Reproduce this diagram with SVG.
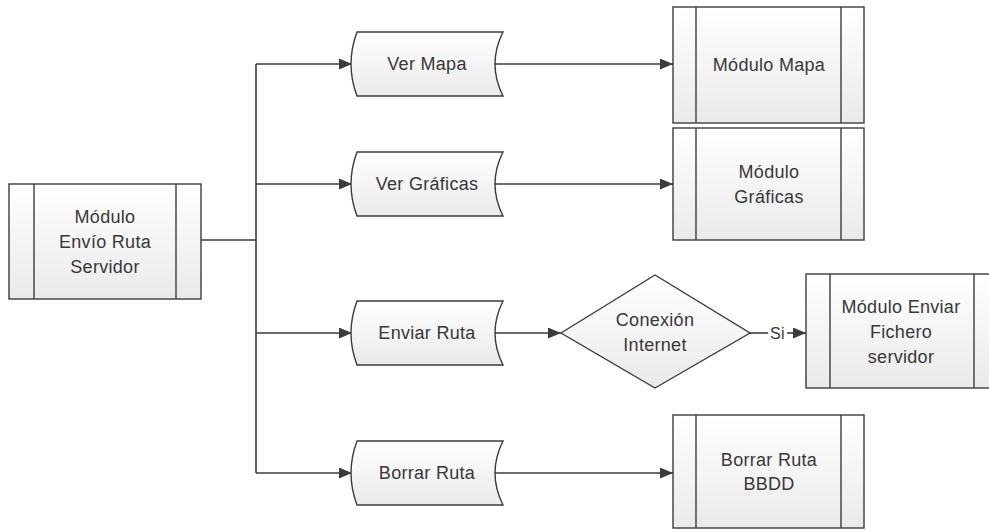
<svg xmlns="http://www.w3.org/2000/svg" width="989" height="530" viewBox="0 0 989 530">
  <style>
    .shape { fill: url(#fillGrad); stroke: #3c3c3c; stroke-width: 1.4; }
    .bar { stroke: #3c3c3c; stroke-width: 1.4; fill: none; }
    .wire { stroke: #3c3c3c; stroke-width: 1.6; fill: none; }
    .arrow { stroke: #3c3c3c; stroke-width: 1.6; fill: none; marker-end: url(#head); }
    text { font-family: "Liberation Sans", Arial, sans-serif; font-size: 18px; fill: #383838; text-anchor: middle; letter-spacing: 0.3px; }
  </style>
  <defs>
    <linearGradient id="fillGrad" x1="0" y1="0" x2="0" y2="1">
      <stop offset="0" stop-color="#ffffff"/>
      <stop offset="1" stop-color="#eaeaea"/>
    </linearGradient>
    <marker id="head" viewBox="0 0 13 11" refX="13" refY="5.5" markerWidth="13" markerHeight="11" markerUnits="userSpaceOnUse" orient="auto">
      <path d="M0,0 L13,5.5 L0,11 Z" fill="#3c3c3c"/>
    </marker>
  </defs>

  <!-- connectors -->
  <g id="connectors">
    <path class="wire" d="M201,240 H256"/>
    <path class="wire" d="M256,64 V473"/>
    <path class="arrow" d="M256,64 H352"/>
    <path class="arrow" d="M256,184 H352"/>
    <path class="arrow" d="M256,333 H352"/>
    <path class="arrow" d="M256,473 H352"/>
    <path class="arrow" d="M495,64 H673"/>
    <path class="arrow" d="M495,184 H673"/>
    <path class="arrow" d="M495,333 H561"/>
    <path class="arrow" d="M495,473 H673"/>
    <path class="wire" d="M750,333 H768"/>
    <path class="arrow" d="M787,333 H806"/>
    <text x="777.5" y="339" style="font-size:16px">Si</text>
  </g>

  <!-- main module -->
  <g id="modulo-envio">
    <rect class="shape" x="9" y="184" width="192" height="115"/>
    <path class="bar" d="M34,184 V299 M176,184 V299"/>
    <text x="105" y="223">Módulo</text>
    <text x="105" y="248">Envío Ruta</text>
    <text x="105" y="273">Servidor</text>
  </g>

  <!-- option shapes (stored-data outline) -->
  <g id="ver-mapa">
    <path class="shape" d="M357,32 H503 Q487,64 503,96 H357 Q345,64 357,32 Z"/>
    <text x="427" y="70">Ver Mapa</text>
  </g>
  <g id="ver-graficas">
    <path class="shape" d="M357,152 H503 Q487,184 503,216 H357 Q345,184 357,152 Z"/>
    <text x="427" y="190">Ver Gráficas</text>
  </g>
  <g id="enviar-ruta">
    <path class="shape" d="M357,301 H503 Q487,333 503,365 H357 Q345,333 357,301 Z"/>
    <text x="427" y="339">Enviar Ruta</text>
  </g>
  <g id="borrar-ruta">
    <path class="shape" d="M357,441 H503 Q487,473 503,505 H357 Q345,473 357,441 Z"/>
    <text x="427" y="479">Borrar Ruta</text>
  </g>

  <!-- target modules -->
  <g id="modulo-mapa">
    <rect class="shape" x="673" y="7" width="191" height="116"/>
    <path class="bar" d="M696,7 V123 M841,7 V123"/>
    <text x="769" y="71">Módulo Mapa</text>
  </g>
  <g id="modulo-graficas">
    <rect class="shape" x="673" y="128" width="191" height="112"/>
    <path class="bar" d="M696,128 V240 M841,128 V240"/>
    <text x="769" y="178">Módulo</text>
    <text x="769" y="203">Gráficas</text>
  </g>
  <g id="conexion-internet">
    <path class="shape" d="M561,333 L655,275 L750,333 L655,388 Z"/>
    <text x="655" y="326">Conexión</text>
    <text x="655" y="351">Internet</text>
  </g>
  <g id="modulo-enviar-fichero">
    <rect class="shape" x="806" y="274" width="192" height="114"/>
    <path class="bar" d="M830,274 V388 M974,274 V388"/>
    <text x="901" y="313">Módulo Enviar</text>
    <text x="901" y="338">Fichero</text>
    <text x="901" y="363">servidor</text>
  </g>
  <g id="borrar-ruta-bbdd">
    <rect class="shape" x="673" y="415" width="191" height="113"/>
    <path class="bar" d="M696,415 V528 M841,415 V528"/>
    <text x="769" y="466">Borrar Ruta</text>
    <text x="769" y="490">BBDD</text>
  </g>
</svg>
